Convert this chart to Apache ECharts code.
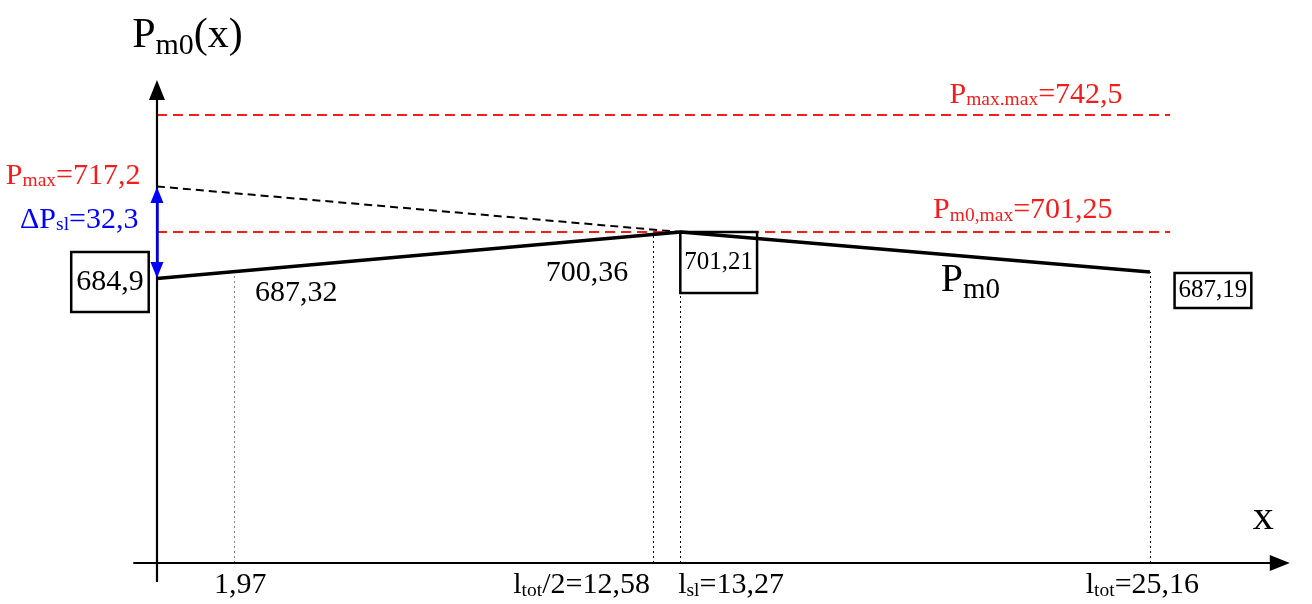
<!DOCTYPE html>
<html><head><meta charset="utf-8">
<script src="https://cdn.jsdelivr.net/npm/echarts@6/dist/echarts.min.js"></script>
<style>html,body{margin:0;padding:0;background:#fff}#c{width:1312px;height:604px}</style>
</head><body><div id="c"></div>
<script>
// ---------------- data ----------------
const lineX = [0, 13.27, 25.16];              // x positions of Pm0 polyline
const lineY = [684.9, 701.21, 687.19];         // Pm0 values
const pMax = 717.2;
const pMaxMax = 742.5;
const pm0Max = 701.25;
const deltaPsl = 32.3;
const guideX = [1.97, 12.58, 13.27, 25.16];
const guideY = [687.32, 700.36, 701.21, 687.19];
const xTickParts = [['1,97'], ['l', 'tot', '/2=12,58'], ['l', 'sl', '=13,27'], ['l', 'tot', '=25,16']];
const valueLabels = ['687,32', '700,36'];
const boxLabels = ['684,9', '701,21', '687,19'];

// ---------------- layout (not data) ----------------
const F = 'Liberation Serif';
const X_MIN = -1, X_MAX = 29, Y_MIN = 575, Y_MAX = 760;
const AXIS_Y = 585.07;           // level where the x axis is drawn
const X_AX_L = -0.6, X_AX_R = 28.45;
const Y_AX_B = 578.4, Y_AX_T = 751;
const RED_END = 25.67;
const RED = '#f51c1c', BLUE = '#0000ff';

function richStr(parts) {
  return parts.map((p, i) => p === '' ? '' : '{' + (i % 2 ? 's' : 'n') + '|' + p + '}').join('');
}
function richStyle(size, sub, pad, color) {
  return {
    n: { fontSize: size, fontFamily: F, color: color },
    s: { fontSize: sub, fontFamily: F, color: color, padding: [pad, 0, 0, 0] }
  };
}
// o.at = [dx, dy] pixel shift of the label anchor from the data point; o.align = 'center' | 'right' | 'left'
function ann(x, y, parts, o) {
  const lab = {
    show: true,
    formatter: richStr(parts),
    rich: richStyle(o.size || 30, o.sub || 19.5, o.pad == null ? 10 : o.pad, o.color || '#000'),
    position: o.at,
    align: o.align || 'center',
    verticalAlign: 'middle',
    color: o.color || '#000',
    opacity: 1
  };
  if (o.box) {
    lab.borderColor = '#000';
    lab.borderWidth = 2.5;
    lab.padding = o.box;
  }
  return { value: [x, y], label: lab };
}

const annotations = [
  ann(lineX[0], lineY[0], [boxLabels[0]], { at: [-46.5, 4], box: [15, 5] }),
  ann(lineX[1], lineY[1], [boxLabels[1]], { size: 25, at: [38.5, 31], box: [18, 4] }),
  ann(lineX[2], lineY[2], [boxLabels[2]], { size: 25, at: [63.5, 19], box: [5, 4] }),
  ann(guideX[0], guideY[0], [valueLabels[0]], { at: [62, 22] }),
  ann(guideX[1], guideY[1], [valueLabels[1]], { at: [-66, 39] }),
  ann(lineX[2], lineY[2], ['P', 'm0'], { size: 40, sub: 29, pad: 20, at: [-179, 9] }),
  ann(0, pMax, ['P', 'max', '=717,2'], { color: RED, align: 'right', at: [-16, -10] }),
  ann(0, lineY[0] + deltaPsl / 2, ['ΔP', 'sl', '=32,3'], { color: BLUE, align: 'right', at: [-18, -12] }),
  ann(RED_END, pMaxMax, ['P', 'max.max', '=742,5'], { color: RED, align: 'right', at: [-47, -19] }),
  ann(RED_END, pm0Max, ['P', 'm0,max', '=701,25'], { color: RED, align: 'right', at: [-57, -21] }),
  ann(0, Y_AX_T, ['P', 'm0', '(x)'], { size: 42, sub: 30, pad: 21, at: [31, -54] }),
  ann(X_AX_R, AXIS_Y, ['x'], { size: 42, at: [-16, -45] })
];
const tickAt = [[6, 23, 'center'], [-3, 23, 'right'], [-2, 23, 'left'], [-7, 23, 'center']];
guideX.forEach((gx, i) => annotations.push(
  ann(gx, AXIS_Y, xTickParts[i], { at: [tickAt[i][0], tickAt[i][1]], align: tickAt[i][2] })));

const guideLines = guideX.map((gx, i) => [
  { coord: [gx, AXIS_Y], lineStyle: { color: i === 0 ? '#888' : '#000' } },
  { coord: [gx, guideY[i]] }
]);

const chart = echarts.init(document.getElementById('c'));
chart.setOption({
  animation: false,
  backgroundColor: '#fff',
  grid: { left: 117.5, top: 64.45, width: 1184, height: 527.25, containLabel: false },
  xAxis: { type: 'value', min: X_MIN, max: X_MAX, show: false },
  yAxis: { type: 'value', min: Y_MIN, max: Y_MAX, show: false },
  series: [
    { // guides
      type: 'line', data: [], silent: true, z: 1,
      markLine: {
        silent: true, symbol: ['none', 'none'], label: { show: false },
        lineStyle: { type: [2, 3], width: 1, color: '#000' },
        data: guideLines
      }
    },
    { // red limit lines
      type: 'line', data: [], silent: true, z: 2,
      markLine: {
        silent: true, symbol: ['none', 'none'], label: { show: false },
        lineStyle: { type: [10, 6], width: 2, color: RED },
        data: [
          [{ coord: [0, pMaxMax] }, { coord: [RED_END, pMaxMax] }],
          [{ coord: [0, pm0Max] }, { coord: [RED_END, pm0Max] }]
        ]
      }
    },
    { // dashed black extension
      type: 'line', data: [[0, pMax], [lineX[1], lineY[1]]], symbol: 'none', z: 3,
      lineStyle: { color: '#000', width: 2, type: [8, 5] }
    },
    { // axes
      type: 'line', data: [], silent: true, z: 4,
      markLine: {
        silent: true, symbol: ['none', 'triangle'], symbolSize: [16, 20], label: { show: false },
        lineStyle: { type: 'solid', width: 2.2, color: '#000' },
        data: [
          [{ coord: [X_AX_L, AXIS_Y] }, { coord: [X_AX_R, AXIS_Y] }],
          [{ coord: [0, Y_AX_B] }, { coord: [0, Y_AX_T] }]
        ]
      }
    },
    { // delta arrow
      type: 'line', data: [], silent: true, z: 5,
      markLine: {
        silent: true, symbol: ['triangle', 'triangle'], symbolSize: [13, 16], label: { show: false },
        lineStyle: { type: 'solid', width: 2.5, color: BLUE },
        data: [[{ coord: [0, lineY[0] + 3] }, { coord: [0, pMax - 3] }]]
      }
    },
    { // Pm0 line
      type: 'line', data: lineX.map((x, i) => [x, lineY[i]]), symbol: 'none', z: 6,
      lineStyle: { color: '#000', width: 3.5 }
    },
    { // annotations
      type: 'scatter', data: annotations, symbolSize: 1, z: 10, silent: true,
      itemStyle: { color: 'rgba(0,0,0,0)', opacity: 1 }
    }
  ]
});
</script>
</body></html>
